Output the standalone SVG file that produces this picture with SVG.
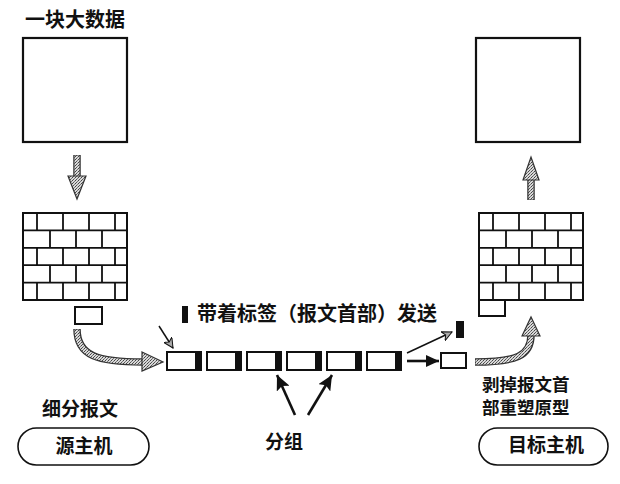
<svg xmlns="http://www.w3.org/2000/svg" width="620" height="484" viewBox="0 0 620 484">
<style>
text{font-family:"Noto Sans CJK SC","Noto Sans",sans-serif;font-weight:bold;fill:#111}
.box{fill:#fff;stroke:#111;stroke-width:2.2}
.wall{fill:#fff;stroke:#111;stroke-width:2}
.brick{stroke:#111;stroke-width:1.8;fill:none}
.pkt{fill:#fff;stroke:#111;stroke-width:2}
.hdr{fill:#111}
.pill{fill:#fff;stroke:#111;stroke-width:1.6}
.shaftOut{fill:none;stroke:#333;stroke-width:7.5}
.shaftIn{fill:none;stroke:url(#dither);stroke-width:5}
.head{fill:url(#dither);stroke:#333;stroke-width:1.2;stroke-linejoin:miter}
.thin{stroke:#111;stroke-width:1.5;fill:none}
.bold{stroke:#111;stroke-width:2.6;fill:none}
</style>
<defs>
<pattern id="dither" width="3" height="3" patternUnits="userSpaceOnUse">
<rect width="3" height="3" fill="#d8d8d8"/>
<rect x="0" y="0" width="1" height="1" fill="#444"/>
<rect x="2" y="1" width="1" height="1" fill="#777"/>
<rect x="1" y="2" width="1" height="1" fill="#555"/>
</pattern>
<marker id="openHead" markerUnits="userSpaceOnUse" markerWidth="12" markerHeight="10" refX="10" refY="5" orient="auto">
<path d="M0,0 L10,5 L0,10 L3,5 Z" fill="#aaa" stroke="#111" stroke-width="1"/>
</marker>
<marker id="blackHead" markerUnits="userSpaceOnUse" markerWidth="14" markerHeight="12" refX="13" refY="6" orient="auto">
<path d="M0,0 L13,6 L0,12 Z" fill="#111"/>
</marker>
<marker id="bigBlack" markerUnits="userSpaceOnUse" markerWidth="16" markerHeight="14" refX="15" refY="7" orient="auto">
<path d="M0,0 L15,7 L0,14 L3,7 Z" fill="#111"/>
</marker>
</defs>

<g id="title-label"><text x="25" y="27" font-size="20">一块大数据</text></g>

<g id="big-data"><rect class="box" x="23" y="38" width="104" height="104"/></g>

<g id="source-wall">
<rect class="wall" x="23" y="213" width="104" height="87"/>
<path class="brick" d="M23,230.4H127M23,247.8H127M23,265.2H127M23,282.6H127
M37,213V230.4M63,213V230.4M89,213V230.4M115,213V230.4
M50,230.4V247.8M76,230.4V247.8M102,230.4V247.8
M37,247.8V265.2M63,247.8V265.2M89,247.8V265.2M115,247.8V265.2
M50,265.2V282.6M76,265.2V282.6M102,265.2V282.6
M37,282.6V300M63,282.6V300M89,282.6V300M115,282.6V300"/>
</g>

<g id="source-piece"><rect class="pkt" x="75" y="307" width="27" height="17"/></g>

<g id="tag-label">
<rect class="hdr" x="182" y="306" width="6" height="17"/>
<text x="197" y="321" font-size="20">带着标签（报文首部）发送</text>
</g>

<g id="packet-1"><rect class="pkt" x="167" y="352" width="34" height="18"/><rect class="hdr" x="195" y="352" width="6" height="18"/></g>
<g id="packet-2"><rect class="pkt" x="207" y="352" width="34" height="18"/><rect class="hdr" x="235" y="352" width="6" height="18"/></g>
<g id="packet-3"><rect class="pkt" x="247" y="352" width="34" height="18"/><rect class="hdr" x="275" y="352" width="6" height="18"/></g>
<g id="packet-4"><rect class="pkt" x="287" y="352" width="34" height="18"/><rect class="hdr" x="315" y="352" width="6" height="18"/></g>
<g id="packet-5"><rect class="pkt" x="327" y="352" width="34" height="18"/><rect class="hdr" x="355" y="352" width="6" height="18"/></g>
<g id="packet-6"><rect class="pkt" x="367" y="352" width="34" height="18"/><rect class="hdr" x="395" y="352" width="6" height="18"/></g>

<g id="stripped-header"><rect class="hdr" x="456" y="321" width="8" height="17"/></g>
<g id="stripped-packet"><rect class="pkt" x="441" y="353" width="25" height="15"/></g>

<g id="dest-wall">
<rect class="wall" x="479" y="213" width="104" height="87"/>
<rect class="wall" x="479" y="300" width="26" height="16"/>
<path class="brick" d="M479,230.4H583M479,247.8H583M479,265.2H583M479,282.6H583
M493,213V230.4M519,213V230.4M545,213V230.4M571,213V230.4
M506,230.4V247.8M532,230.4V247.8M558,230.4V247.8
M493,247.8V265.2M519,247.8V265.2M545,247.8V265.2M571,247.8V265.2
M506,265.2V282.6M532,265.2V282.6M558,265.2V282.6
M493,282.6V300M519,282.6V300M545,282.6V300M571,282.6V300"/>
</g>

<g id="dest-data"><rect class="box" x="476" y="38" width="104" height="104"/></g>

<g id="split-label"><text x="42" y="416" font-size="19">细分报文</text></g>
<g id="source-host">
<rect class="pill" x="18" y="428" width="131" height="37" rx="18.5"/>
<text x="84" y="453" font-size="19" text-anchor="middle">源主机</text>
</g>
<g id="packets-label"><text x="265" y="449" font-size="19">分组</text></g>
<g id="strip-label">
<text x="482" y="391" font-size="17.5">剥掉报文首</text>
<text x="482" y="414" font-size="17.5">部重塑原型</text>
</g>
<g id="dest-host">
<rect class="pill" x="479" y="428" width="129" height="37" rx="18.5"/>
<text x="546" y="452" font-size="19" text-anchor="middle">目标主机</text>
</g>

<g id="connectors">
<!-- down arrow -->
<path class="shaftOut" d="M77,155 V177"/>
<path class="shaftIn" d="M77,155.5 V178"/>
<path class="head" d="M68,176 L77,199 L86,176 Z"/>
<!-- up arrow -->
<path class="shaftOut" d="M531,200 V179"/>
<path class="shaftIn" d="M531,199.5 V178"/>
<path class="head" d="M523,180 L531,157 L539,180 Z"/>
<!-- left curved arrow -->
<path class="shaftOut" d="M77,329 C77,356 98,362 143,362"/>
<path class="shaftIn" d="M77,329.5 C77,356 98,362 144,362"/>
<path class="head" d="M142,352 L163,362 L142,371 Z"/>
<!-- right curved arrow -->
<path class="shaftOut" d="M475,362 C516,362 531,356 531,335"/>
<path class="shaftIn" d="M475.5,362 C516,362 531,356 531,334"/>
<path class="head" d="M522,336 L531,317 L540,336 Z"/>
<!-- thin arrows -->
<line class="thin" x1="159" y1="326" x2="173" y2="348" marker-end="url(#openHead)"/>
<line class="thin" x1="407" y1="353" x2="452" y2="332" marker-end="url(#openHead)"/>
<line class="bold" x1="407" y1="361" x2="439" y2="361" stroke-width="2" marker-end="url(#blackHead)"/>
<!-- packet pointers -->
<line class="bold" x1="295" y1="415" x2="277" y2="375" marker-end="url(#bigBlack)"/>
<line class="bold" x1="308" y1="415" x2="332" y2="375" marker-end="url(#bigBlack)"/>
</g>
</svg>
